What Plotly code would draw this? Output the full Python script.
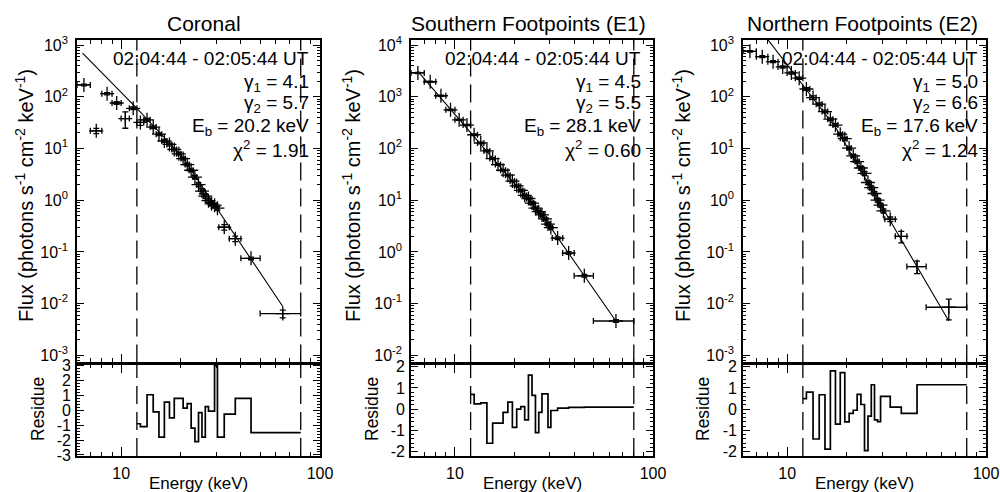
import math
import plotly.graph_objects as go

# ---------------- data ----------------
titles = ["Coronal", "Southern Footpoints (E1)", "Northern Footpoints (E2)"]
time_range = "02:04:44 - 02:05:44 UT"
gamma1 = [4.1, 4.5, 5.0]
gamma2 = [5.7, 5.5, 6.6]
e_break = [20.2, 28.1, 17.6]
chi2 = [1.91, 0.60, 1.24]
fit_range = [12, 80]          # keV, dashed lines

# energy bins (keV)
e_lo = [6, 7, 8, 9, 10, 11, 12, 13, 14, 15, 16, 17, 18, 19, 20, 21, 22, 23, 24,
        25, 26, 27, 28, 29, 30, 31, 35, 40, 50]
e_hi = [7, 8, 9, 10, 11, 12, 13, 14, 15, 16, 17, 18, 19, 20, 21, 22, 23, 24, 25,
        26, 27, 28, 29, 30, 31, 35, 40, 50, 80]

# photon flux (photons s^-1 cm^-2 keV^-1) and fractional 1-sigma errors
flux_cor = [170, 22, 115, 76, 38, 60, 32, 36, 26, 19, 14, 12, 9.6, 7.9, 6.4, 4.9,
            3.8, 2.8, 2.0, 1.5, 1.2, 0.98, 0.85, 0.80, 0.70, 0.30, 0.18, 0.075, 0.0064]
ferr_cor = [0.04, 0.12, 0.05, 0.06, 0.35, 0.06, 0.12, 0.06, 0.06, 0.06, 0.06, 0.06,
            0.06, 0.06, 0.06, 0.06, 0.06, 0.07, 0.08, 0.12, 0.10, 0.08, 0.08, 0.08,
            0.08, 0.12, 0.12, 0.06, 0.17]

flux_s = [2900, 1960, 1050, 560, 360, 285, 185, 128, 90, 64, 49, 38, 30.5, 23.5,
          19.0, 15.5, 12.4, 10.8, 8.8, 7.0, 6.0, 5.2, 4.35, 3.45, 2.95, 1.85, 0.95,
          0.345, 0.046]
ferr_s = [0.03, 0.03, 0.03, 0.03, 0.03, 0.03, 0.04, 0.04, 0.04, 0.04, 0.04, 0.04,
          0.04, 0.04, 0.04, 0.04, 0.05, 0.05, 0.05, 0.05, 0.05, 0.05, 0.05, 0.05,
          0.05, 0.06, 0.06, 0.06, 0.06]

flux_n = [760, 600, 480, 380, 290, 230, 142, 97, 72, 52, 37, 28.5, 19, 15.5, 10.2,
          7.2, 5.6, 4.2, 3.3, 2.2, 1.75, 1.35, 1.0, 0.80, 0.62, 0.43, 0.20, 0.052,
          0.0085]
ferr_n = [0.03, 0.04, 0.04, 0.05, 0.05, 0.05, 0.06, 0.08, 0.06, 0.06, 0.06, 0.06,
          0.06, 0.06, 0.06, 0.06, 0.07, 0.08, 0.08, 0.08, 0.08, 0.08, 0.08, 0.08,
          0.08, 0.10, 0.25, 0.27, 0.43]

# broken power-law fit
model_e = [[6.4, 12, 20.2, 65], [6.5, 28.1, 64.4], [6.5, 12, 17.6, 65]]
model_f = [[700, 60, 7.1, 0.0088], [3100, 4.6, 0.048], [3600, 169, 25, 0.0046]]

# normalised residuals (step plot)
res_e = [12, 12.5, 13.5, 14.5, 15.5, 16.5, 17.5, 18.5, 19.5, 20.5, 21.5, 22.5, 23.5,
         24.5, 25.5, 26.5, 27.5, 28.5, 29.5, 30.5, 33, 37.5, 45, 80]
res_cor = [-0.9, -1.1, 1.05, -0.1, -1.8, 0.55, -0.5, 0.8, 0.8, 0.15, 0.45, -1.2,
           -2.1, -0.15, -1.8, 0.25, -0.05, -0.05, 3.0, -1.8, -0.25, 0.8, -1.5]
res_s = [0.7, 0.25, 0.3, -1.6, -0.65, -0.65, -0.15, 0.33, -0.85, 0.0, 0.12, -0.5,
         1.6, 0.65, -1.1, -0.15, 0.72, 0.72, -0.85, -0.06, 0.05, 0.09, 0.1]
res_n = [0.5, 0.8, -1.4, 0.68, -1.88, 1.8, -0.7, 1.72, -0.6, -0.2, -0.05, 0.7,
         0.22, -1.95, -0.33, 1.15, -0.5, -0.58, 0.6, 0.6, 0.1, -0.2, 1.15]

flux_all = [flux_cor, flux_s, flux_n]
ferr_all = [ferr_cor, ferr_s, ferr_n]
res_all = [res_cor, res_s, res_n]
decades = [list(range(-3, 4)), list(range(-2, 5)), list(range(-3, 4))]
res_ticks = [[-3, -2, -1, 0, 1, 2, 3], [-2, -1, 0, 1, 2], [-2, -1, 0, 1, 2]]

# ---------------- layout geometry / style ----------------
W, H = 1000, 492
FONT = "Liberation Sans, Arial, Helvetica, sans-serif"
panel_px = [(77, 320), (411, 653), (743, 986)]
LW = 1.6
TOP, MID, BOT = 40, 363.3, 456
MAIN_BOT = MID - LW / 2       # so both boundary lines fall on the same pixels
RES_TOP = MID + LW / 2
main_yr = [[-3.14, 3.1], [-2.14, 4.1], [-3.14, 3.1]]
res_yr = [[-3.07, 3.11], [-2.2, 2.12], [-2.2, 2.12]]
title_cx = [204, 528, 862]
text_right = [311, 643, 980]
flux_title_x = [24, 351, 681]
res_title_x = [38, 372, 703]


def py(p):
    return 1 - p / H


def sfx(k):
    return "" if k == 1 else str(k)


centers = [(a + b) / 2 for a, b in zip(e_lo, e_hi)]
x_minor = [6, 7, 8, 9, 20, 30, 40, 50, 60, 70, 80, 90]

fig = go.Figure()
layout = dict(template="none", width=W, height=H, autosize=False,
              margin=dict(l=0, r=0, t=0, b=0, pad=0),
              paper_bgcolor="white", plot_bgcolor="white", showlegend=False,
              font=dict(family=FONT, color="black", size=16))
shapes, annotations = [], []

for i in range(3):
    km, kr = 2 * i + 1, 2 * i + 2
    L, R = panel_px[i]
    xdom = [L / W, R / W]
    common_x = dict(domain=xdom, type="log", range=[math.log10(6), 2],
                    automargin=False,
                    showline=True, linewidth=LW, linecolor="black", mirror="ticks",
                    ticks="inside", ticklen=9, tickwidth=1.2, tickcolor="black",
                    tickvals=[10, 100], showgrid=False, zeroline=False,
                    minor=dict(ticks="inside", ticklen=4.5, tickwidth=1,
                               tickcolor="black", tickmode="array",
                               tickvals=x_minor, showgrid=False))
    layout["xaxis" + sfx(km)] = dict(common_x, anchor="y" + sfx(km),
                                     showticklabels=False)
    layout["xaxis" + sfx(kr)] = dict(common_x, anchor="y" + sfx(kr),
                                     ticktext=["10", "100"], showticklabels=True,
                                     tickfont=dict(size=16, family=FONT, color="black"),
                                     ticklabelstandoff=2)
    dec = decades[i]
    ymin_minor = []
    for d in range(dec[0] - 1, dec[-1] + 1):
        for m in range(2, 10):
            ymin_minor.append(m * 10.0 ** d)
    layout["yaxis" + sfx(km)] = dict(
        domain=[py(MAIN_BOT), py(TOP)], anchor="x" + sfx(km), type="log",
        range=main_yr[i], automargin=False,
        showline=True, linewidth=LW, linecolor="black",
        mirror="ticks", ticks="inside", ticklen=7, tickwidth=1.2, tickcolor="black",
        tickvals=[10.0 ** d for d in dec],
        ticktext=["10<sup>%d</sup>" % d for d in dec],
        tickfont=dict(size=16, family=FONT, color="black"), ticklabelstandoff=4,
        showgrid=False, zeroline=False,
        minor=dict(ticks="inside", ticklen=3.5, tickwidth=1, tickcolor="black",
                   tickmode="array", tickvals=ymin_minor, showgrid=False))
    layout["yaxis" + sfx(kr)] = dict(
        domain=[py(BOT), py(RES_TOP)], anchor="x" + sfx(kr), range=res_yr[i],
        automargin=False,
        showline=True, linewidth=LW, linecolor="black", mirror="ticks",
        ticks="inside", ticklen=7, tickwidth=1.2, tickcolor="black",
        tickvals=res_ticks[i], ticktext=[str(v) for v in res_ticks[i]],
        tickfont=dict(size=16, family=FONT, color="black"), ticklabelstandoff=1,
        showgrid=False, zeroline=False,
        minor=dict(ticks="inside", ticklen=3, tickwidth=1, tickcolor="black",
                   dtick=0.2, showgrid=False))

    flux = flux_all[i]
    err = [f * e for f, e in zip(flux, ferr_all[i])]
    # data points
    fig.add_trace(go.Scatter(
        x=centers, y=flux, mode="markers", xaxis="x" + sfx(km), yaxis="y" + sfx(km),
        marker=dict(symbol="cross-thin", size=10, color="black",
                    line=dict(width=1.3, color="black")),
        error_x=dict(type="data", symmetric=False,
                     array=[h - c for h, c in zip(e_hi, centers)],
                     arrayminus=[c - l for l, c in zip(e_lo, centers)],
                     color="black", thickness=1.3, width=3),
        error_y=dict(type="data", symmetric=False, array=err, arrayminus=err,
                     color="black", thickness=1.3, width=3)))
    # fit line
    fig.add_trace(go.Scatter(
        x=model_e[i], y=model_f[i], mode="lines", xaxis="x" + sfx(km),
        yaxis="y" + sfx(km), line=dict(color="black", width=1.1)))
    # residuals
    rv = res_all[i]
    fig.add_trace(go.Scatter(
        x=res_e, y=rv + [rv[-1]], mode="lines", xaxis="x" + sfx(kr),
        yaxis="y" + sfx(kr), line=dict(color="black", width=1.7, shape="hv")))

    # dashed fit-range lines
    for k in (km, kr):
        for e in fit_range:
            shapes.append(dict(type="line", xref="x" + sfx(k),
                               yref="y" + sfx(k) + " domain",
                               x0=e, x1=e, y0=0, y1=1,
                               line=dict(color="black", width=1.3, dash="18px,8px")))

    # texts
    annotations.append(dict(text=titles[i], xref="paper", yref="paper",
                            x=title_cx[i] / W, y=py(23), xanchor="center",
                            yanchor="middle", showarrow=False,
                            font=dict(size=21, family=FONT)))
    lines = [time_range,
             "\u03b3<sub>1</sub> = %.1f" % gamma1[i],
             "\u03b3<sub>2</sub> = %.1f" % gamma2[i],
             "E<sub>b</sub> = %.1f keV" % e_break[i],
             "\u03c7<sup>2</sup> = %.2f" % chi2[i]]
    ys = [58, 83, 104, 127, 149]
    for t, yy in zip(lines, ys):
        annotations.append(dict(text=t, xref="paper", yref="paper",
                                x=text_right[i] / W, y=py(yy), xanchor="right",
                                yanchor="middle", showarrow=False,
                                font=dict(size=19, family=FONT)))
    annotations.append(dict(
        text="Flux (photons s<sup>-1</sup> cm<sup>-2</sup> keV<sup>-1</sup>)",
        xref="paper", yref="paper", x=flux_title_x[i] / W, y=py(196),
        xanchor="center", yanchor="middle", textangle=-90, showarrow=False,
        font=dict(size=20, family=FONT)))
    annotations.append(dict(text="Residue", xref="paper", yref="paper",
                            x=res_title_x[i] / W, y=py(409), xanchor="center",
                            yanchor="middle", textangle=-90, showarrow=False,
                            font=dict(size=17.5, family=FONT)))
    annotations.append(dict(text="Energy (keV)", xref="paper", yref="paper",
                            x=(L + R) / 2 / W, y=py(483), xanchor="center",
                            yanchor="middle", showarrow=False,
                            font=dict(size=17, family=FONT)))

layout["shapes"] = shapes
layout["annotations"] = annotations
fig.update_layout(**layout)
fig.write_html("out.html")
